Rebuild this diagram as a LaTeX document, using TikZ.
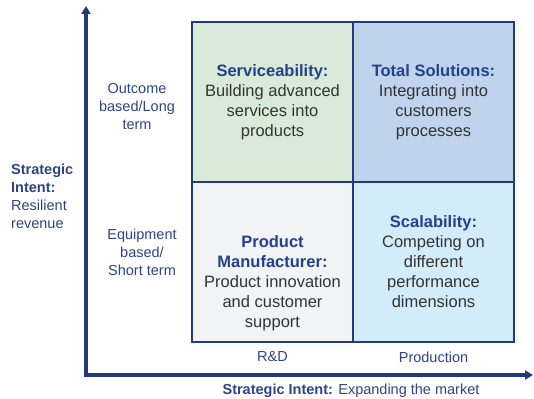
\documentclass[tikz,border=0pt]{standalone}
\usepackage{fontspec}
\setmainfont{Liberation Sans}
\usetikzlibrary{arrows.meta}

\definecolor{axisblue}{HTML}{22397F}
\definecolor{headblue}{HTML}{23408E}
\definecolor{labelblue}{HTML}{2E4486}
\definecolor{bodygray}{HTML}{333333}
\definecolor{cellgreen}{HTML}{D9EBD8}
\definecolor{cellblue}{HTML}{C0D3EC}
\definecolor{cellgray}{HTML}{F2F3F4}
\definecolor{cellcyan}{HTML}{D2ECF9}

\begin{document}
\begin{tikzpicture}[x=1pt, y=-1pt,
    % Estilos
    cell/.style={
        draw=axisblue, line width=1.6pt, minimum width=161pt,
        minimum height=160pt, inner sep=0pt
    },
    celltext/.style={
        font=\fontsize{16.5}{20}\selectfont, text=bodygray,
        align=center, inner sep=0pt
    },
    sidelabel/.style={
        font=\fontsize{14.5}{18}\selectfont, text=labelblue,
        align=center, inner sep=0pt
    },
    axis/.style={
        draw=axisblue, line width=3.2pt,
        -{Triangle[width=9pt,length=8pt]}
    }
]
\useasboundingbox (0,0) rectangle (534,398);

% =============================================
% CUADRANTES
% =============================================
\node[cell, fill=cellgreen] (serv) at (272.5, 102) {};
\node[cell, fill=cellblue]  (total) at (433.5, 102) {};
\node[cell, fill=cellgray]  (prod) at (272.5, 262) {};
\node[cell, fill=cellcyan]  (scal) at (433.5, 262) {};

% Textos de los cuadrantes
\node[celltext] (servtxt) at (serv.center)
    {\textbf{\color{headblue}Serviceability:}\\Building advanced\\services into\\products};
\node[celltext] (totaltxt) at (total.center)
    {\textbf{\color{headblue}Total Solutions:}\\Integrating into\\customers\\processes};
\node[celltext] (prodtxt) at (272.5, 283)
    {\textbf{\color{headblue}Product}\\\textbf{\color{headblue}Manufacturer:}\\Product innovation\\and customer\\support};
\node[celltext] (scaltxt) at (scal.center)
    {\textbf{\color{headblue}Scalability:}\\Competing on\\different\\performance\\dimensions};

% =============================================
% EJES
% =============================================
\coordinate (origin) at (86, 375);
\coordinate (ytip) at (86, 6);
\coordinate (xtip) at (533, 375);
\draw[axis] (origin) -- (ytip);
\draw[axis] ([xshift=-1.6pt]origin) -- (xtip);

% Etiquetas del eje vertical
\node[sidelabel] (outcome) at (137, 107) {Outcome\\based/Long\\term};
\node[sidelabel] (equip) at (142, 252) {Equipment\\based/\\Short term};
\node[sidelabel, align=left, anchor=west] (resil) at (11, 196)
    {\textbf{Strategic}\\\textbf{Intent:}\\Resilient\\revenue};

% Etiquetas del eje horizontal
\node[sidelabel] (rnd) at (serv.center |- 0, 357) {R\&D};
\node[sidelabel] (production) at (total.center |- 0, 357) {Production};
\node[sidelabel] (market) at (351, 391)
    {\textbf{Strategic Intent:} Expanding the market};

\end{tikzpicture}
\end{document}
